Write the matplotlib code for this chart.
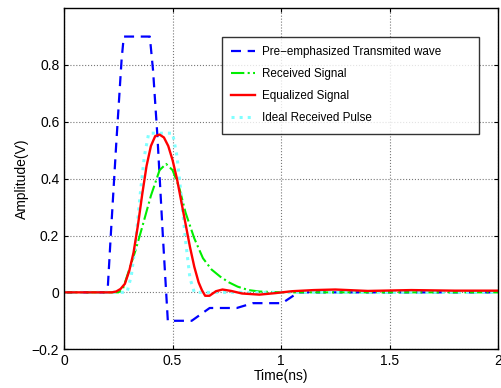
import matplotlib
matplotlib.use('Agg')
import matplotlib.pyplot as plt

plt.rcParams['font.family'] = ['Liberation Sans', 'DejaVu Sans']

# Pre-emphasized transmitted wave
t_tx = [0, 0.2, 0.215, 0.24, 0.265, 0.275, 0.395, 0.41, 0.43, 0.455, 0.478,
        0.588, 0.671, 0.796, 0.87, 1.005, 1.08, 2.0]
v_tx = [0, 0, 0.2, 0.52, 0.82, 0.9, 0.9, 0.78, 0.55, 0.2, -0.1,
        -0.1, -0.055, -0.055, -0.038, -0.038, 0, 0]

# Received signal
t_rx = [0, 0.25, 0.27, 0.30, 0.33, 0.36, 0.40, 0.44, 0.47, 0.50, 0.53, 0.56,
        0.60, 0.64, 0.68, 0.72, 0.76, 0.80, 0.85, 0.90, 1.0, 1.5, 2.0]
v_rx = [0, 0, 0.01, 0.08, 0.15, 0.23, 0.34, 0.43, 0.452, 0.43, 0.37, 0.28,
        0.19, 0.12, 0.08, 0.055, 0.035, 0.02, 0.008, 0.003, 0, 0, 0]

# Equalized signal
t_eq = [0, 0.22, 0.24, 0.26, 0.28, 0.30, 0.32, 0.34, 0.36, 0.38, 0.40, 0.42,
        0.44, 0.46, 0.48, 0.50, 0.52, 0.54, 0.56, 0.58, 0.60, 0.62, 0.635,
        0.65, 0.67, 0.7, 0.73, 0.77, 0.82, 0.9, 0.97, 1.05, 1.15, 1.25,
        1.4, 1.6, 1.8, 2.0]
v_eq = [0, 0, 0.003, 0.012, 0.03, 0.075, 0.14, 0.235, 0.345, 0.445, 0.515, 0.55,
        0.555, 0.545, 0.515, 0.465, 0.40, 0.32, 0.24, 0.16, 0.09, 0.035, 0.008,
        -0.012, -0.012, 0.004, 0.01, 0.005, -0.004, -0.008, -0.003, 0.004,
        0.008, 0.01, 0.005, 0.008, 0.006, 0.006]

# Ideal received pulse
t_id = [0, 0.29, 0.31, 0.33, 0.35, 0.37, 0.39, 0.5, 0.52, 0.54, 0.56, 0.58, 0.6, 2.0]
v_id = [0, 0, 0.06, 0.18, 0.34, 0.48, 0.56, 0.56, 0.48, 0.34, 0.18, 0.05, 0, 0]

fig = plt.figure(figsize=(5.01, 3.88), dpi=100)
ax = fig.add_axes([0.128, 0.1, 0.866, 0.879])

ax.plot(t_tx, v_tx, '--', color='#0000ff', lw=1.6, dashes=(4.5, 3),
        label='Pre\u2212emphasized Transmited wave')
ax.plot(t_rx, v_rx, '-.', color='#00ee00', lw=1.5, label='Received Signal')
ax.plot(t_id, v_id, ':', color='#80ffff', lw=2.2, label='Ideal Received Pulse')
ax.plot(t_eq, v_eq, '-', color='#ff0000', lw=1.7, label='Equalized Signal')

ax.set_xlim(0, 2)
ax.set_ylim(-0.2, 1.0)
ax.set_xticks([0, 0.5, 1, 1.5, 2])
ax.set_xticklabels(['0', '0.5', '1', '1.5', '2'])
ax.set_yticks([-0.2, 0, 0.2, 0.4, 0.6, 0.8])
ax.set_yticklabels(['\u22120.2', '0', '0.2', '0.4', '0.6', '0.8'])
ax.tick_params(direction='in', labelsize=10, top=True, right=True, length=3)
ax.grid(True, linestyle=':', color='#777777', lw=0.8)
for s in ax.spines.values():
    s.set_linewidth(1.0)

ax.set_xlabel('Time(ns)', fontsize=10, labelpad=1)
ax.set_ylabel('Amplitude(V)', fontsize=10, labelpad=2)

handles, labels = ax.get_legend_handles_labels()
order = [0, 1, 3, 2]
leg = ax.legend([handles[i] for i in order], [labels[i] for i in order],
                loc='upper left', bbox_to_anchor=(0.364, 0.633, 0.592, 0.282),
                mode='expand', fontsize=8.4, frameon=True, fancybox=False,
                handlelength=2.0, labelspacing=0.85, borderpad=0.8,
                handletextpad=0.6, borderaxespad=0)
leg.get_frame().set_edgecolor('black')
leg.get_frame().set_linewidth(1.0)

fig.savefig('out.png', dpi=100)
